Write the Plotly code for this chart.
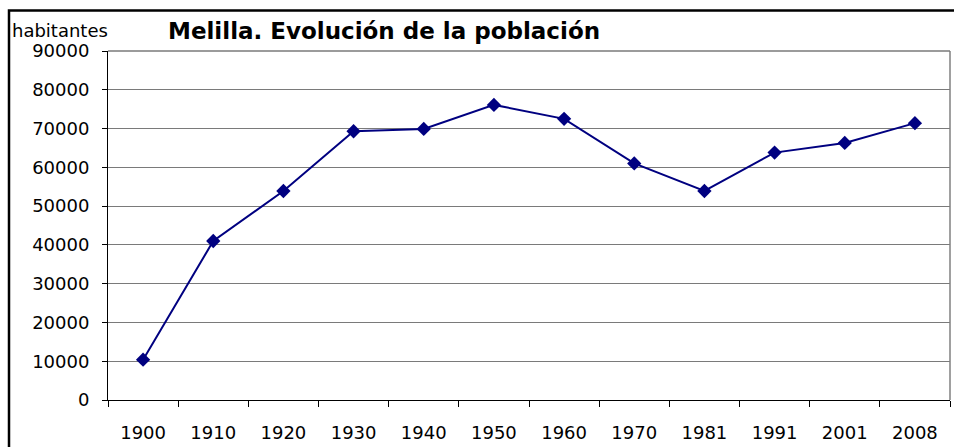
import plotly.graph_objects as go

years = ["1900", "1910", "1920", "1930", "1940", "1950", "1960", "1970", "1981", "1991", "2001", "2008"]
habitantes = [10400, 41000, 53900, 69300, 69900, 76100, 72500, 61000, 53900, 63800, 66300, 71400]
y_ticks = [0, 10000, 20000, 30000, 40000, 50000, 60000, 70000, 80000, 90000]

W, H = 954, 447
L, R, T, B = 108, 4, 51, 47
pw, ph = W - L - R, H - T - B

def px_x(p):
    return (p - L) / pw

def px_y(p):
    return (H - B - p) / ph

fig = go.Figure()
fig.add_trace(go.Scatter(
    x=years, y=habitantes, mode="lines+markers",
    line=dict(color="#000080", width=2),
    marker=dict(symbol="diamond", size=11, color="#000080"),
    showlegend=False, hoverinfo="x+y",
))

font_reg = dict(family="DejaVu Sans", size=18, color="black")

fig.update_layout(
    width=W, height=H,
    margin=dict(l=L, r=R, t=T, b=B),
    paper_bgcolor="white", plot_bgcolor="white",
    font=font_reg,
    xaxis=dict(
        type="category", range=[-0.5, 11.5], tickson="boundaries",
        ticks="outside", ticklen=6, tickcolor="black", tickwidth=1,
        showline=True, linecolor="black", linewidth=1,
        showgrid=False, zeroline=False, tickfont=font_reg,
        ticklabelstandoff=16,
    ),
    yaxis=dict(
        range=[0, 90000], tickvals=y_ticks, tickformat="d",
        ticks="outside", ticklen=5, tickcolor="black", tickwidth=1,
        showline=True, linecolor="black", linewidth=1,
        showgrid=True, gridcolor="#7a7a7a", gridwidth=1.2,
        zeroline=False, tickfont=font_reg, ticklabelstandoff=9,
    ),
    annotations=[
        dict(text="<b>Melilla. Evolución de la población</b>", xref="paper", yref="paper",
             x=px_x(384), y=px_y(31), xanchor="center", yanchor="middle", showarrow=False,
             font=dict(family="DejaVu Sans", size=23, color="black")),
        dict(text="habitantes", xref="paper", yref="paper",
             x=px_x(10), y=px_y(31), xanchor="left", yanchor="middle", showarrow=False,
             font=font_reg),
    ],
    shapes=[
        dict(type="line", xref="paper", yref="paper", x0=1, x1=1, y0=0, y1=1,
             line=dict(color="#808080", width=1.5)),
        dict(type="line", xref="paper", yref="paper", x0=0, x1=1, y0=1, y1=1,
             line=dict(color="#7a7a7a", width=1.5)),
        dict(type="rect", xref="paper", yref="paper",
             x0=px_x(9), x1=px_x(W + 20), y0=px_y(H + 20), y1=px_y(10.5),
             line=dict(color="black", width=2.5), fillcolor="rgba(0,0,0,0)", layer="above"),
    ],
)

fig.write_html("out.html", config={"displayModeBar": False},
               post_script="document.body.style.margin='0';")
